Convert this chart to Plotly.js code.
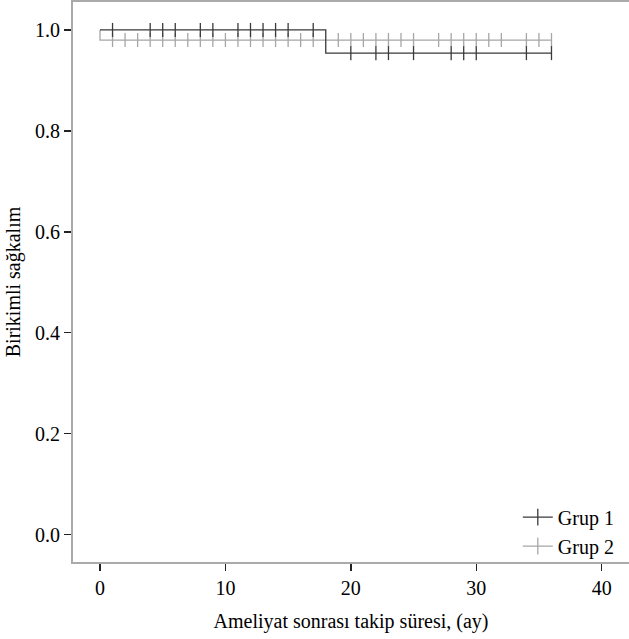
<!DOCTYPE html>
<html>
<head>
<meta charset="utf-8">
<script src="https://cdn.plot.ly/plotly-3.0.1.min.js"></script>
<style>html,body{margin:0;padding:0;background:#fff;}#chart{width:629px;height:639px;}</style>
</head>
<body>
<div id="chart"></div>
<script>
// Kaplan-Meier step curves (time in months, cumulative survival)
const group1Times = [0, 18, 36];
const group1Surv  = [1.0, 0.954, 0.954];
const group2Times = [0, 0, 36];
const group2Surv  = [1.0, 0.98, 0.98];
// censoring times
const group1Censor = [1, 4, 5, 6, 8, 9, 11, 12, 13, 14, 15, 17, 20, 22, 23, 25, 28, 29, 30, 34, 36];
const group2Censor = [1, 2, 3, 4, 5, 6, 7, 8, 9, 10, 11, 12, 13, 14, 15, 16, 17, 19, 20, 21, 22, 23, 24, 25, 27, 28, 29, 30, 31, 32, 34, 35, 36];
const seriesNames = ["Grup 1", "Grup 2"];
const xTicks = [0, 10, 20, 30, 40];
const yTicks = [0.0, 0.2, 0.4, 0.6, 0.8, 1.0];

function survAt(times, surv, t) {
  let s = surv[0];
  for (let i = 0; i < times.length; i++) { if (times[i] <= t) s = surv[i]; }
  return s;
}

const dark = '#3a3a3a';
const light = '#a6a6a6';

function censorMarker(c, size) {
  return {symbol: 'line-ns-open', size: size, color: c, line: {color: c, width: 1.3}};
}

const traces = [
  {x: group2Times, y: group2Surv, mode: 'lines', line: {shape: 'hv', color: light, width: 1.3}, showlegend: false, hoverinfo: 'skip'},
  {x: group2Censor, y: group2Censor.map(t => survAt(group2Times, group2Surv, t)), mode: 'markers',
   marker: censorMarker(light, 10), showlegend: false},
  {x: group1Times, y: group1Surv, mode: 'lines', line: {shape: 'hv', color: dark, width: 1.3}, showlegend: false, hoverinfo: 'skip'},
  {x: group1Censor, y: group1Censor.map(t => survAt(group1Times, group1Surv, t)), mode: 'markers',
   marker: censorMarker(dark, 10), showlegend: false},
  {x: [null], y: [null], name: seriesNames[0], mode: 'lines+markers', line: {color: dark, width: 1.3},
   marker: censorMarker(dark, 12)},
  {x: [null], y: [null], name: seriesNames[1], mode: 'lines+markers', line: {color: light, width: 1.3},
   marker: censorMarker(light, 12)}
];

const font = {family: '"Liberation Serif", "Times New Roman", serif', size: 20, color: '#000'};

const layout = {
  width: 629, height: 639,
  margin: {l: 73, r: 0, t: 2, b: 76.5},
  paper_bgcolor: '#fff', plot_bgcolor: '#fff',
  font: font,
  showlegend: true,
  legend: {x: 0.80, y: 0.115, xanchor: 'left', yanchor: 'top', bgcolor: 'rgba(0,0,0,0)', font: font, tracegroupgap: 0},
  xaxis: {
    range: [-2.153, 42.18], tickvals: xTicks, ticktext: xTicks.map(String),
    showgrid: false, zeroline: false, showline: true, linecolor: '#aaaaaa', linewidth: 2, mirror: true,
    ticks: 'outside', ticklen: 7, tickwidth: 1.5, tickcolor: '#222',
    title: {text: 'Ameliyat sonrası takip süresi, (ay)', font: font, standoff: 16}
  },
  yaxis: {
    range: [-0.0545, 1.0554], tickvals: yTicks, ticktext: yTicks.map(v => v.toFixed(1)),
    showgrid: false, zeroline: false, showline: true, linecolor: '#aaaaaa', linewidth: 2, mirror: false,
    ticks: 'outside', ticklen: 7, tickwidth: 1.5, tickcolor: '#222',
    title: {text: 'Birikimli sağkalım', font: font, standoff: 9}
  }
};

Plotly.newPlot('chart', traces, layout, {displayModeBar: false, staticPlot: true});
</script>
</body>
</html>
